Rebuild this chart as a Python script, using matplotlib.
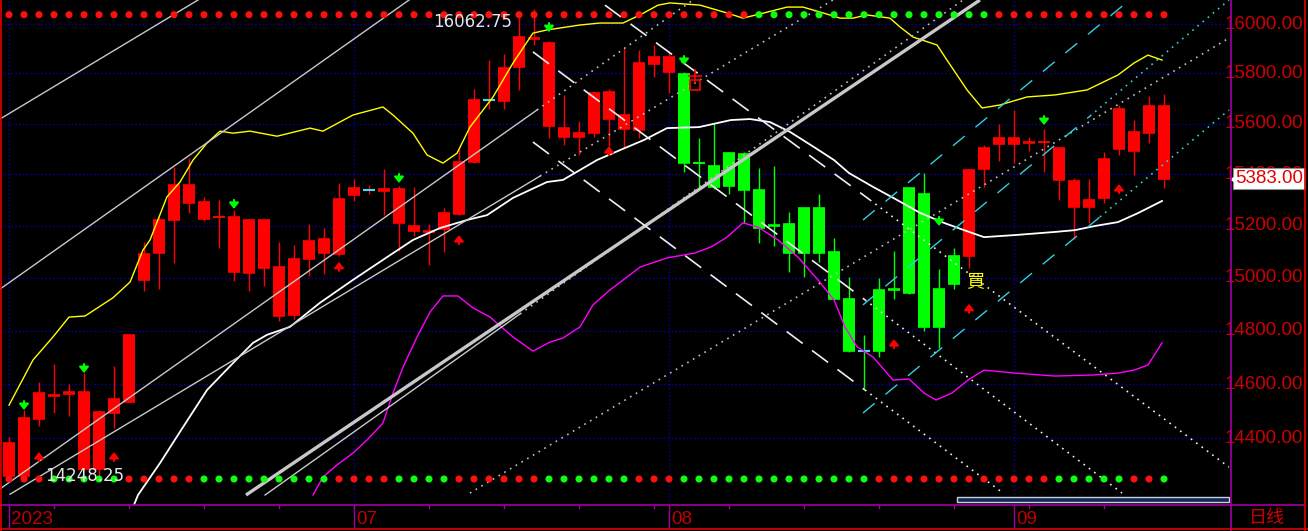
import matplotlib.pyplot as plt
from matplotlib.patches import Rectangle
from matplotlib.lines import Line2D

plt.rcParams['font.family'] = ['Liberation Sans', 'Noto Sans CJK SC', 'DejaVu Sans']

# daily bars, index 0 = first bar on screen
opens = [14263, 14263, 14471, 14557, 14562, 14289, 14289, 14494, 14535, 14992,
         15096, 15222, 15290, 15227, 15232, 15024, 15020, 15039, 14856, 14859,
         15072, 15095, 15091, 15319, 15338, 15336, 15212, 15179, 15176, 15186,
         15245, 15449, 15694, 15691, 15827, 15940, 15592, 15548, 15548, 15564,
         15619, 15578, 15574, 15838, 15806, 15798, 15446, 15432, 15484, 15479,
         15339, 15203, 15207, 15268, 15268, 15097, 14920, 14724, 14954, 14956,
         15348, 15323, 14958, 15083, 15085, 15420, 15519, 15518, 15524, 15526,
         15378, 15274, 15274, 15307, 15499, 15492, 15564, 15671]
highs = [14406, 14504, 14606, 14675, 14600, 14640, 14504, 14667, 14789, 15139,
         15235, 15430, 15466, 15310, 15300, 15261, 15226, 15224, 15139, 15125,
         15207, 15190, 15365, 15382, 15357, 15421, 15354, 15350, 15206, 15270,
         15498, 15737, 15854, 15879, 16030, 16062.75, 15930, 15714, 15611, 15731,
         15737, 15904, 15895, 15915, 15887, 15805, 15541, 15601, 15488, 15488,
         15423, 15432, 15252, 15270, 15323, 15151, 15002, 14784, 14998, 15102,
         15350, 15406, 15034, 15115, 15421, 15515, 15598, 15654, 15548, 15577,
         15503, 15384, 15382, 15488, 15674, 15614, 15710, 15718]
lows = [14258, 14248.25, 14447, 14492, 14483, 14285, 14252, 14439, 14532, 14948,
        14958, 15055, 15248, 15219, 15115, 14988, 14948, 14970, 14837, 14844,
        15008, 15015, 15085, 15297, 15324, 15241, 15103, 15161, 15049, 15097,
        15241, 15444, 15657, 15657, 15734, 15915, 15541, 15515, 15475, 15546,
        15511, 15504, 15541, 15787, 15723, 15410, 15339, 15342, 15323, 15209,
        15135, 15123, 15024, 15005, 15062, 14916, 14721, 14584, 14702, 14918,
        14940, 14799, 14733, 14958, 15036, 15352, 15453, 15443, 15492, 15410,
        15300, 15148, 15212, 15290, 15475, 15397, 15524, 15347]
closes = [14384, 14475, 14566, 14560, 14572, 14572, 14498, 14545, 14784, 15091,
          15222, 15358, 15358, 15292, 15235, 15234, 15222, 15222, 15043, 15073,
          15141, 15149, 15304, 15347, 15338, 15343, 15343, 15199, 15178, 15248,
          15448, 15694, 15694, 15821, 15949, 15944, 15924, 15584, 15564, 15723,
          15727, 15634, 15843, 15866, 15866, 15443, 15443, 15352, 15354, 15339,
          15192, 15200, 15094, 15094, 15096, 14920, 14724, 14724, 14724, 14953,
          14944, 14815, 14815, 14977, 15417, 15503, 15541, 15541, 15527, 15529,
          15503, 15374, 15300, 15462, 15658, 15567, 15671, 15383]

# bar colour signal (R = red, G = green)
trend = ("RRRRRRRRRR" "RRRRRRRRRR" "RRRRRRRRRR" "RRRRRRRRRR"
         "RRRRRGGGGG" "GGGGGGGGGG" "GGGGRRRRRR" "RRRRRRRR")
top_dots = ("RRRRRRRRRR" "RRRRRRRRRR" "RRRRRRRRRR" "RRRRRRRRRR"
            "RRRRRRRRRR" "GGGGGGGGGG" "GGGGGGRRRR" "RRRRRRRR")
bottom_dots = ("RRRGGGGGRR" "RRRGGGGGGG" "GGRRRRGGGG" "RRRRRRGGGG"
               "GGRRRGGGGG" "GGGGGGGGRR" "RRRRRRRRRR" "GGGGGRRG")

# band lines (bar index, price)
upper_x = [0, 1.6, 2.93, 4, 5.07, 6.93, 8.07, 8.93, 9.4, 10.53, 11.4, 12.27, 13.2, 14.07,
           14.93, 16.07, 17.87, 20.07, 20.93, 22.93, 24.93, 25.6, 26.93, 27.87, 28.93,
           29.87, 30.73, 32.27, 33.6, 34.93, 35.87, 38.07, 39.4, 40.93, 42.07, 43.27,
           44.07, 46.07, 47.87, 48.93, 50.07, 51.87, 52.93, 54.07, 55.4, 56.27, 57.2,
           58.73, 59.4, 60.27, 61.87, 62.53, 63.87, 64.87, 66.07, 67.87, 69.73, 71.87,
           73.93, 75, 75.93, 76.87]
upper_p = [14522, 14690, 14776, 14851, 14855, 14924, 14984, 15106, 15145, 15312, 15370,
           15456, 15523, 15570, 15562, 15570, 15550, 15582, 15570, 15634, 15666, 15634,
           15562, 15476, 15444, 15483, 15586, 15706, 15842, 15963, 15976, 15996, 16004,
           16004, 16037, 16077, 16086, 16077, 16045, 16024, 16041, 16069, 16069, 16049,
           16024, 16024, 16037, 16024, 15988, 15947, 15915, 15854, 15734, 15662, 15674,
           15706, 15714, 15734, 15794, 15842, 15874, 15854]
mid_x = [8.27, 8.6, 10.07, 11.4, 13.2, 14.93, 16.27, 17.2, 18.73, 20.73, 22.93, 25.2,
         26.93, 28.73, 30.53, 31.87, 33.6, 35.87, 36.93, 39.2, 40.73, 42.33, 43.87, 46,
         48.13, 49.4, 50.73, 52.07, 53.67, 55, 56, 57.6, 59.2, 60.73, 62.33, 63.67, 65,
         67.07, 69.73, 71.07, 72.4, 73.93, 75.27, 76.87]
mid_p = [14150, 14194, 14310, 14424, 14578, 14678, 14754, 14784, 14814, 14905, 14992,
         15079, 15145, 15191, 15222, 15241, 15308, 15370, 15378, 15456, 15495, 15535,
         15582, 15586, 15614, 15618, 15606, 15567, 15507, 15456, 15405, 15351, 15300,
         15250, 15211, 15183, 15156, 15164, 15176, 15183, 15199, 15214, 15249, 15296]
lower_x = [20.27, 20.93, 21.87, 22.93, 23.87, 24.93, 25.6, 26.27, 27.2, 28.07, 28.93,
           29.93, 30.93, 32.07, 33.6, 34.93, 36.07, 36.93, 38.07, 38.93, 40.07, 41.2,
           42.07, 43.87, 45.73, 46.8, 47.87, 48.93, 49.93, 51.27, 52.6, 53.93, 55, 55.73,
           56.53, 57.6, 58.93, 60, 61, 61.8, 62.87, 63.93, 65, 67.07, 69.73, 72.33, 73.93,
           75, 75.93, 76.87]
lower_p = [14194, 14259, 14303, 14346, 14394, 14456, 14567, 14663, 14776, 14870, 14931,
           14931, 14886, 14851, 14776, 14723, 14757, 14772, 14814, 14897, 14954, 15003,
           15041, 15076, 15095, 15118, 15156, 15211, 15195, 15145, 15079, 14992, 14916,
           14814, 14739, 14701, 14615, 14619, 14567, 14541, 14567, 14615, 14652, 14641,
           14630, 14634, 14641, 14652, 14671, 14754]

# drawn trend lines: ((bar, price), (bar, price))
gray_solid = [((-0.6, 15618), (12.6, 16098)),
              ((-0.6, 14957), (26.67, 16098)),
              ((-0.6, 14216), (35.2, 15654)),
              ((0.07, 14197), (35.4, 15393)),
              ((17.07, 14194), (34.07, 14863))]
gray_thick = [((15.8, 14194), (64.73, 16098))]
gray_dotted = [((35.2, 15654), (45.6, 16098)),
               ((35.4, 15393), (54.93, 16098)),
               ((34.07, 14863), (63.6, 16098)),
               ((30.73, 14201), (81.33, 15943))]
white_dashed = [((39.73, 16077), (57.4, 15300)),
                ((34.93, 15887), (57.07, 14916)),
                ((34.93, 15527), (57.07, 14578))]
white_dotted = [((57.4, 15300), (81.33, 14295)),
                ((57.07, 14916), (74.2, 14201)),
                ((57.07, 14578), (66.27, 14201))]
cyan_dashed = [((56.93, 14493), (72.73, 15234)),
               ((56.93, 15222), (74.47, 16086)),
               ((56.93, 14897), (72.07, 15630))]
cyan_dotted = [((72.73, 15234), (81.33, 15654)),
               ((72.07, 15630), (81.33, 16098))]

# signal arrows (bar, tip price)
buy_idx = [2, 7, 22, 30, 40, 59, 64, 74]
buy_p = [14350, 14350, 15061, 15164, 15511, 14768, 14901, 15362]
sell_idx = [1, 5, 15, 26, 36, 45, 62, 69]
sell_p = [14504, 14641, 15265, 15366, 15967, 15834, 15199, 15594]

month_idx = [0, 23, 44, 67]
month_lbl = ['2023', '07', '08', '09']
price_ticks = [14400, 14600, 14800, 15000, 15200, 15400, 15600, 15800, 16000]
last_price = 15383.00
hi_idx, lo_idx = 35, 1

RED, GREEN, DOJI = '#ff0000', '#00ff00', '#40e0f0'

fig = plt.figure(figsize=(13.08, 5.31), dpi=100, facecolor='black')
ax = fig.add_axes([0, 26 / 531, 1230 / 1308, 505 / 531])
ax.set_yscale('log')
ax.set_xlim(-0.6, 81.4)
ax.set_ylim(14158, 16098)
ax.axis('off')
tx = ax.get_xaxis_transform()
ty = ax.get_yaxis_transform()

# dotted blue grid
for p in price_ticks:
    ax.axhline(p, color='#0000d0', lw=0.9, ls=(0, (1, 2)), zorder=0)
for m in month_idx:
    ax.axvline(m, color='#0000d0', lw=0.9, ls=(0, (1, 2)), zorder=0)

# candles
n = len(opens)
for i in range(n):
    col = RED if trend[i] == 'R' else GREEN
    ax.vlines(i, lows[i], highs[i], color=col, lw=1.0, zorder=2)
    lo, hi = min(opens[i], closes[i]), max(opens[i], closes[i])
    if opens[i] == closes[i]:
        ax.hlines(opens[i], i - 0.4, i + 0.4, color=DOJI, lw=1.5, zorder=3)
    else:
        ax.bar(i, hi - lo, bottom=lo, width=0.8, color=col, lw=0, zorder=3)
        ax.hlines([lo, hi], i - 0.4, i + 0.4, color=col, lw=1.2, zorder=3)

# bands
ax.plot(upper_x, upper_p, color='#ffff00', lw=1.0, zorder=4)
ax.plot(mid_x, mid_p, color='white', lw=1.3, zorder=4)
ax.plot(lower_x, lower_p, color='#ff00ff', lw=1.0, zorder=4)


def draw(lines, **kw):
    for a, b in lines:
        ax.plot([a[0], b[0]], [a[1], b[1]], zorder=5, **kw)


draw(gray_solid, color='#c8c8c8', lw=1.0)
draw(gray_thick, color='#c8c8c8', lw=2.4, solid_capstyle='butt')
draw(gray_dotted, color='#c0c0c0', lw=1.2, ls=(0, (1, 3)))
draw(white_dashed, color='#eeeeee', lw=1.2, ls=(0, (12, 7)))
draw(white_dotted, color='#eeeeee', lw=1.2, ls=(0, (1, 3)))
draw(cyan_dashed, color='#30d0e0', lw=1.0, ls=(0, (11, 10)))
draw(cyan_dotted, color='#30d0e0', lw=1.2, ls=(0, (1, 3)))

# arrows
aprops = dict(arrowstyle='-|>,head_length=0.35,head_width=0.28', lw=1.5,
              shrinkA=0, shrinkB=0)
for i, p in zip(sell_idx, sell_p):
    ax.annotate('', xy=(i, p), xytext=(0, 6.5), textcoords='offset points',
                arrowprops=dict(color=GREEN, **aprops), zorder=6)
for i, p in zip(buy_idx, buy_p):
    ax.annotate('', xy=(i, p), xytext=(0, -6.5), textcoords='offset points',
                arrowprops=dict(color=RED, **aprops), zorder=6)

# signal rows of dots
dot_col = {'R': '#ff1010', 'G': '#10ff10'}
ax.scatter(range(n), [1 - 14.7 / 505] * n, c=[dot_col[s] for s in top_dots],
           s=26, linewidths=0, transform=tx, zorder=7)
ax.scatter(range(n), [1 - 479 / 505] * n, c=[dot_col[s] for s in bottom_dots],
           s=26, linewidths=0, transform=tx, zorder=7)

# extreme labels
ax.annotate(f'{highs[hi_idx]:.2f}', xy=(hi_idx, highs[hi_idx]), xytext=(-15.8, -9.6),
            textcoords='offset points', ha='right', va='center', color='#e6e6e6',
            fontsize=12, family='DejaVu Sans', zorder=8)
ax.annotate(f'{lows[lo_idx]:.2f}', xy=(lo_idx, lows[lo_idx]), xytext=(15.1, 2.9),
            textcoords='offset points', ha='left', va='center', color='#e6e6e6',
            fontsize=12, family='DejaVu Sans', zorder=8)

# buy marker text and small box marker
ax.annotate('買', xy=(64, lows[64]), xytext=(4.3, -9.4), textcoords='offset points',
            ha='center', va='center', color='#ffff00', fontsize=13,
            family=['Noto Sans CJK SC', 'DejaVu Sans'], zorder=8)
ax.plot([45.7], [15790], marker='+', color=RED, ms=10, mew=1.2, zorder=8)
ax.plot([45.7], [15755], marker='s', mfc='none', mec=RED, ms=6.5, mew=1.2, zorder=8)

# right price scale
for p in price_ticks:
    ax.text(1303 / 1230, p, f'{p:.2f}', transform=ty, ha='right', va='center',
            color='#cc0000', fontsize=13.5, clip_on=False, zorder=9)
ax.text(1303 / 1230, last_price, f'{last_price:.2f}'[1:], transform=ty, ha='right',
        va='center', color='#e00000', fontsize=13.5, clip_on=False, zorder=10,
        bbox=dict(boxstyle='square,pad=0.12', fc='white', ec='#909090', lw=0.8))
ax.plot([1233 / 1230], [last_price], marker='<', color='white', ms=5,
        transform=ty, clip_on=False, zorder=10)

# date strip
for m, lbl in zip(month_idx, month_lbl):
    ax.text(m + 0.13, -15 / 505, lbl, transform=tx, ha='left', va='center',
            color='#c00000', fontsize=13.5, clip_on=False)
    ax.plot([m, m], [0, -23 / 505], color='#a000a0', lw=1.0, transform=tx, clip_on=False)
for i in range(3, n, 5):
    ax.plot([i, i], [0, -3 / 505], color='#a000a0', lw=1.0, transform=tx, clip_on=False)

# scroll bar
ax.add_patch(Rectangle((957 / 1230, 3 / 505), 272 / 1230, 5 / 505, transform=ax.transAxes,
                       fc='#102860', ec='#d0d0d0', lw=1.0, zorder=9, clip_on=False))

# frame lines
fig.add_artist(Line2D([0, 1304 / 1308], [26 / 531] * 2, color='#a000a0', lw=1.2))
fig.add_artist(Line2D([1230.5 / 1308] * 2, [0, 1], color='#a000a0', lw=1.2))
fig.add_artist(Line2D([0, 1], [2.5 / 531] * 2, color='#e00000', lw=1.2))
fig.add_artist(Line2D([1304.5 / 1308] * 2, [0, 1], color='#e00000', lw=1.2))
fig.add_artist(Line2D([0.6 / 1308] * 2, [0, 1], color='#e00000', lw=1.2))
fig.text(1267 / 1308, 1 - 518.5 / 531, '日线', ha='center', va='center', color='#d00000',
         fontsize=13, family=['Noto Sans CJK SC', 'DejaVu Sans'])

fig.savefig('out.png', dpi=100, facecolor='black')
